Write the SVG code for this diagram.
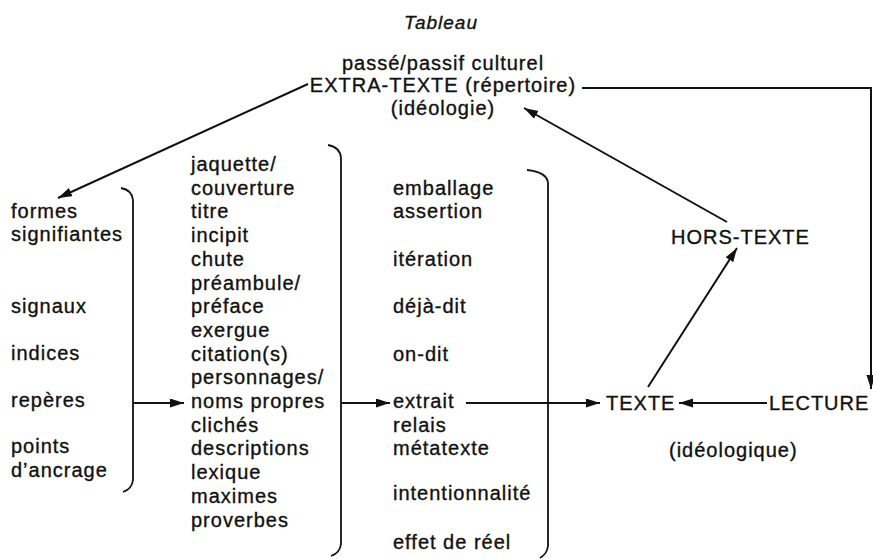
<svg xmlns="http://www.w3.org/2000/svg" width="873" height="559" viewBox="0 0 873 559">
<defs>
<style>
text{font-family:"Liberation Sans",Arial,Helvetica,sans-serif;font-size:20px;letter-spacing:1px;fill:#111;stroke:#111;stroke-width:0.35px}
.c{text-anchor:middle}
.it{font-style:italic;font-size:19px}
.ln{fill:none;stroke:#111;stroke-width:2}
.br{fill:none;stroke:#111;stroke-width:1.8}
</style>
<marker id="ah" markerUnits="userSpaceOnUse" markerWidth="15" markerHeight="10" refX="14" refY="4.5" orient="auto"><path d="M0,0 L14,4.5 L0,9 z" fill="#111"/></marker>
</defs>
<rect width="873" height="559" fill="#fff"/>
<g id="title"><text x="441" y="29" class="c it">Tableau</text></g>
<g id="extra-texte">
<text x="443" y="70" class="c">passé/passif culturel</text>
<text x="443" y="92" class="c">EXTRA-TEXTE (répertoire)</text>
<text x="443" y="115" class="c">(idéologie)</text>
</g>
<g id="col1">
<text x="11" y="218">formes</text>
<text x="11" y="241">signifiantes</text>
<text x="11" y="313">signaux</text>
<text x="11" y="360">indices</text>
<text x="11" y="407">repères</text>
<text x="11" y="453">points</text>
<text x="11" y="477">d’ancrage</text>
<path class="br" d="M121,188 Q132,190 133,200 L133,480 Q132,489 123,492"/>
</g>
<g id="col2">
<text x="191" y="171">jaquette/</text>
<text x="191" y="194.7">couverture</text>
<text x="191" y="218.4">titre</text>
<text x="191" y="242">incipit</text>
<text x="191" y="265.8">chute</text>
<text x="191" y="289.5">préambule/</text>
<text x="191" y="313.2">préface</text>
<text x="191" y="337">exergue</text>
<text x="191" y="360.6">citation(s)</text>
<text x="191" y="384.3">personnages/</text>
<text x="191" y="408">noms propres</text>
<text x="191" y="431.7">clichés</text>
<text x="191" y="455.4">descriptions</text>
<text x="191" y="479">lexique</text>
<text x="191" y="502.8">maximes</text>
<text x="191" y="526.5">proverbes</text>
<path class="br" d="M328,145 Q340,147 341,158 L341,544 Q340,553 331,556"/>
</g>
<g id="col3">
<text x="393" y="194.7">emballage</text>
<text x="393" y="218.4">assertion</text>
<text x="393" y="265.8">itération</text>
<text x="393" y="313.2">déjà-dit</text>
<text x="393" y="360.6">on-dit</text>
<text x="393" y="408">extrait</text>
<text x="393" y="431.7">relais</text>
<text x="393" y="455.4">métatexte</text>
<text x="393" y="500">intentionnalité</text>
<text x="393" y="549">effet de réel</text>
<path class="br" d="M527,170 Q547,172 548,183 L548,546 Q547,554 540,558"/>
</g>
<g id="hors-texte"><text x="671" y="244">HORS-TEXTE</text></g>
<g id="texte"><text x="606" y="410">TEXTE</text></g>
<g id="lecture"><text x="769" y="410">LECTURE</text></g>
<g id="ideologique"><text x="669" y="457">(idéologique)</text></g>
<g id="connectors">
<path class="ln" marker-end="url(#ah)" d="M308,84 L58,198"/>
<path class="ln" marker-end="url(#ah)" d="M582,88 H871 V389"/>
<path class="ln" marker-end="url(#ah)" d="M133,403 H184"/>
<path class="ln" marker-end="url(#ah)" d="M341,403 H390"/>
<path class="ln" marker-end="url(#ah)" d="M466,403 H600"/>
<path class="ln" marker-end="url(#ah)" d="M767,403 H679"/>
<path class="ln" marker-end="url(#ah)" d="M648,387 L737,248"/>
<path class="ln" marker-end="url(#ah)" d="M727,222 L524,108"/>
</g>
</svg>
